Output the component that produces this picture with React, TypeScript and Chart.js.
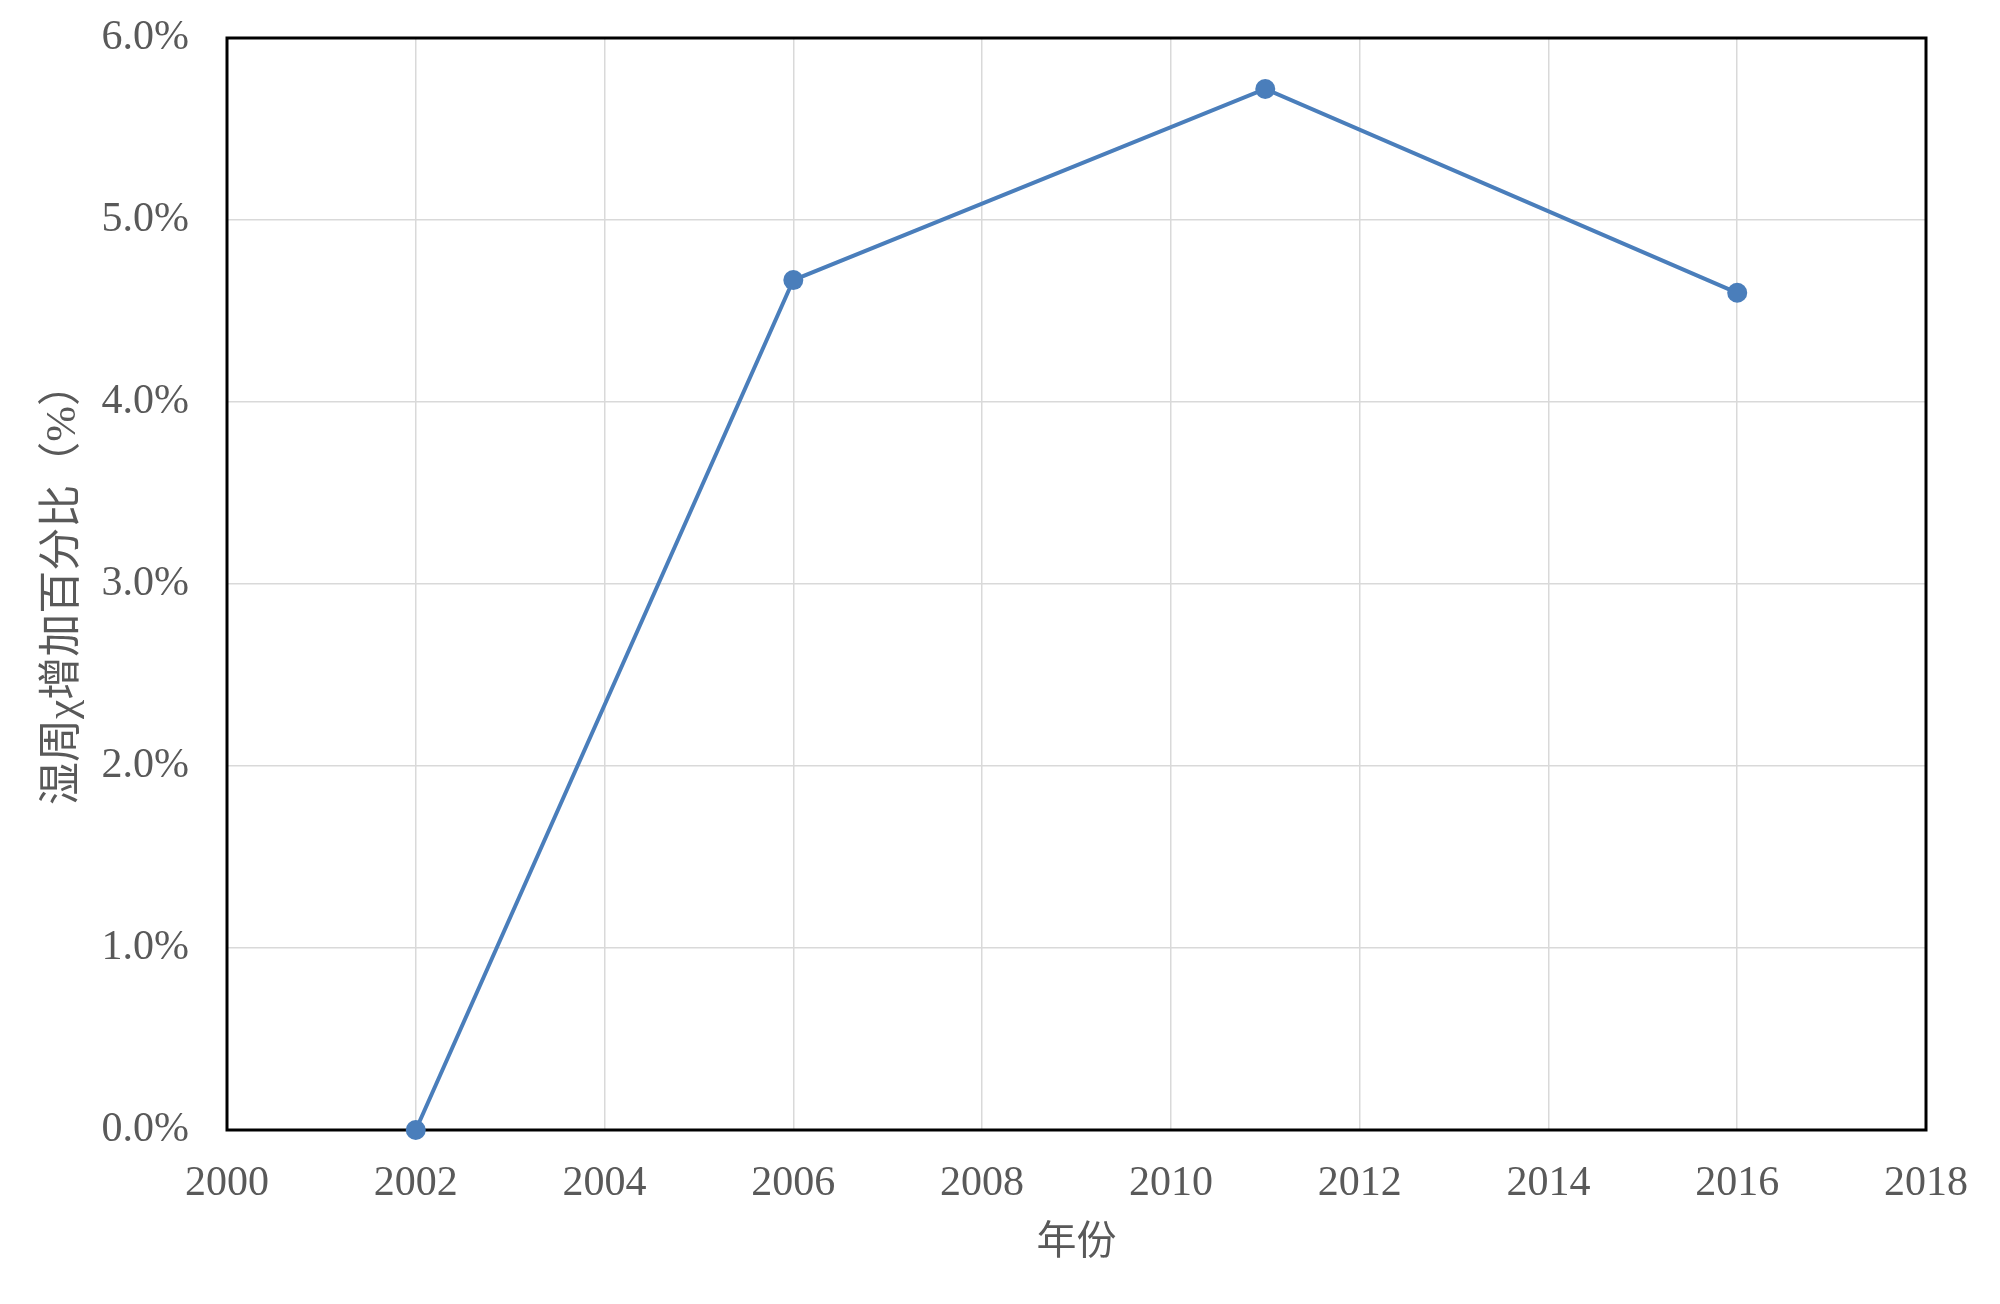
import React, { useEffect, useRef } from "react";
import { Chart, registerables } from "chart.js";

Chart.register(...registerables);

const years = [2002, 2006, 2011, 2016];
const increasePct = [0.0, 4.67, 5.72, 4.6];
const xTickMin = 2000;
const xTickMax = 2018;
const xStep = 2;
const yTickMin = 0;
const yTickMax = 6;
const yStep = 1;
const yTitle = "湿周χ增加百分比（%）";
const xTitle = "年份";

const FONT = "'Liberation Serif', 'Times New Roman', 'Noto Sans CJK SC', serif";
const TEXT = "#595959";

const borderPlugin = {
  id: "frameBorder",
  beforeDatasetsDraw(chart: any) {
    const { ctx, chartArea } = chart;
    ctx.save();
    ctx.strokeStyle = "#000000";
    ctx.lineWidth = 3;
    ctx.strokeRect(chartArea.left, chartArea.top, chartArea.right - chartArea.left, chartArea.bottom - chartArea.top);
    ctx.restore();
  },
};

export default function App() {
  const ref = useRef<HTMLCanvasElement | null>(null);
  useEffect(() => {
    document.body.style.margin = "0";
    const canvas = ref.current;
    if (!canvas) return;
    const chart = new Chart(canvas, {
      type: "line",
      data: {
        datasets: [
          {
            data: years.map((y, i) => ({ x: y, y: increasePct[i] })),
            borderColor: "#4a7ebb",
            backgroundColor: "#4a7ebb",
            borderWidth: 4,
            pointRadius: 10,
            pointBorderWidth: 0,
            pointBackgroundColor: "#4a7ebb",
            tension: 0,
            clip: false as any,
          },
        ],
      },
      options: {
        animation: false,
        responsive: false,
        maintainAspectRatio: false,
        layout: { padding: { top: 38, right: 74, left: 0, bottom: 0 } },
        plugins: { legend: { display: false }, tooltip: { enabled: false } },
        scales: {
          x: {
            type: "linear",
            min: xTickMin,
            max: xTickMax,
            afterFit: (s: any) => {
              s.height = 174;
              s.paddingLeft = 0;
              s.paddingRight = 0;
              s.paddingTop = 0;
              s.paddingBottom = 0;
            },
            ticks: {
              stepSize: xStep,
              padding: 29,
              color: TEXT,
              font: { family: FONT, size: 42 },
              callback: (v: any) => String(v),
              maxRotation: 0,
              autoSkip: false,
            },
            grid: { color: "#d9d9d9", lineWidth: 1.5, drawTicks: false },
            border: { display: false },
            title: {
              display: true,
              text: xTitle,
              color: TEXT,
              font: { family: FONT, size: 40 },
              padding: { top: 0, bottom: 37 },
            },
          },
          y: {
            type: "linear",
            min: yTickMin,
            max: yTickMax,
            afterFit: (s: any) => {
              s.width = 227;
              s.paddingLeft = 0;
              s.paddingRight = 0;
              s.paddingTop = 0;
              s.paddingBottom = 0;
            },
            ticks: {
              stepSize: yStep,
              padding: 38,
              color: TEXT,
              font: { family: FONT, size: 42 },
              callback: (v: any) => Number(v).toFixed(1) + "%",
            },
            grid: { color: "#d9d9d9", lineWidth: 1.5, drawTicks: false },
            border: { display: false },
            title: {
              display: true,
              text: yTitle,
              color: TEXT,
              font: { family: FONT, size: 43 },
              padding: { top: 38, bottom: 0 },
            },
          },
        },
      },
      plugins: [borderPlugin],
    });
    return () => chart.destroy();
  }, []);
  return (
    <div style={{ position: "fixed", left: 0, top: 0, width: 2000, height: 1304, background: "#fff" }}>
      <canvas ref={ref} width={2000} height={1304} style={{ width: 2000, height: 1304, display: "block" }} />
    </div>
  );
}
